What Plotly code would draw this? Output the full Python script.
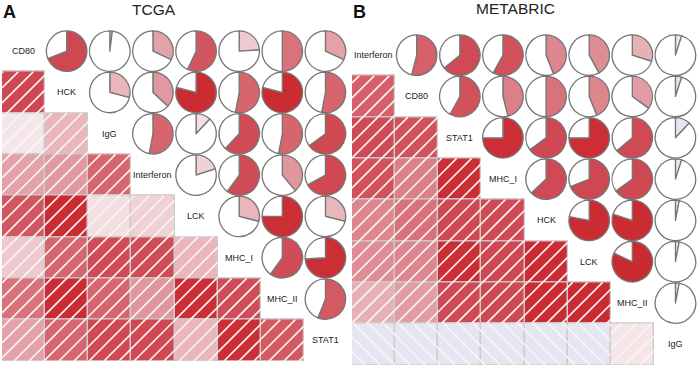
import plotly.graph_objects as go
from plotly.colors import sample_colorscale

W, H = 699, 368

# ---------------- data ----------------
tcga_names = ["CD80", "HCK", "IgG", "Interferon", "LCK", "MHC_I", "MHC_II", "STAT1"]
# upper triangle, row by row (r with the following variables)
tcga_r = [
    [0.69, 0.02, 0.32, 0.57, 0.24, 0.50, 0.32],   # CD80
    [0.29, 0.37, 0.79, 0.53, 0.79, 0.53],         # HCK
    [0.53, 0.12, 0.62, 0.53, 0.65],               # IgG
    [0.20, 0.60, 0.39, 0.67],                     # Interferon
    [0.29, 0.75, 0.29],                           # LCK
    [0.60, 0.74],                                 # MHC_I
    [0.56],                                       # MHC_II
]

metabric_names = ["Interferon", "CD80", "STAT1", "MHC_I", "HCK", "LCK", "MHC_II", "IgG"]
metabric_r = [
    [0.54, 0.64, 0.58, 0.44, 0.42, 0.30, -0.05],  # Interferon
    [0.58, 0.46, 0.50, 0.44, 0.35, -0.05],        # CD80
    [0.75, 0.65, 0.75, 0.64, -0.12],              # STAT1
    [0.63, 0.69, 0.65, -0.05],                    # MHC_I
    [0.78, 0.80, -0.03],                          # HCK
    [0.82, -0.03],                                # LCK
    [0.03],                                       # MHC_II
]

panel_titles = ["TCGA", "METABRIC"]
panel_letters = ["A", "B"]

# ---------------- style ----------------
pos_scale = [
    [0.00, "#f6e9ea"], [0.15, "#f2dcdf"], [0.27, "#ecc4c8"], [0.32, "#e2a2a8"],
    [0.40, "#df949b"], [0.50, "#d9727b"], [0.55, "#d45c65"], [0.60, "#d04c56"],
    [0.70, "#ce4650"], [0.74, "#cb2e34"], [1.00, "#c6242a"],
]
neg_color = "#e6e6f3"
outline = "#767676"
square_line = "#cbcbcb"
hatch_color = "#fbf4f4"
FONT = "Liberation Sans, Arial, sans-serif"
HATCH = 15.0  # px spacing of the hatching

panels = [
    dict(names=tcga_names, r=tcga_r, x0=2.0, x1=347.0, y0=30.5, y1=361.0, ax=""),
    dict(names=metabric_names, r=metabric_r, x0=352.0, x1=697.0, y0=34.5, y1=365.0, ax="2"),
]


def full_matrix(upper, n):
    m = [[1.0] * n for _ in range(n)]
    for i, row in enumerate(upper):
        for k, v in enumerate(row):
            j = i + 1 + k
            m[i][j] = v
            m[j][i] = v
    return m


def color_for(v):
    if v < 0:
        return neg_color
    return sample_colorscale(pos_scale, [min(abs(v), 1.0)])[0]


def hatch_lines(i, j, sign, cw, ch, gx, gy):
    """Diagonal hatch segments (data coords) for the cell at row i, col j."""
    xs, ys = [], []
    off = gx + gy if sign > 0 else gx - gy
    if sign > 0:
        lo, hi = 0.0, cw + ch
    else:
        lo, hi = -ch, cw
    k = int((lo + off) // HATCH) - 1
    while True:
        c = k * HATCH - off
        k += 1
        if c > hi:
            break
        if c <= lo:
            continue
        pts = []
        if sign > 0:  # u + w = c
            cand = [(c, 0.0), (0.0, c), (c - ch, ch), (cw, c - cw)]
        else:         # u - w = c
            cand = [(c, 0.0), (0.0, -c), (c + ch, ch), (cw, cw - c)]
        for u, w in cand:
            if -1e-9 <= u <= cw + 1e-9 and -1e-9 <= w <= ch + 1e-9:
                if all(abs(u - a) > 1e-6 or abs(w - b) > 1e-6 for a, b in pts):
                    pts.append((u, w))
        if len(pts) >= 2:
            for u, w in pts[:2]:
                xs.append(j - 0.5 + u / cw)
                ys.append(i - 0.5 + w / ch)
            xs.append(None)
            ys.append(None)
    return xs, ys


fig = go.Figure()
annotations = []
layout_axes = {}

for p_idx, p in enumerate(panels):
    names = p["names"]
    n = len(names)
    m = full_matrix(p["r"], n)
    cw = (p["x1"] - p["x0"]) / n
    ch = (p["y1"] - p["y0"]) / n
    xa = "x" + p["ax"]
    ya = "y" + p["ax"]

    # lower triangle: shaded squares + hatching
    bx, bbase, bcol = [], [], []
    hx, hy = [], []
    for i in range(n):
        for j in range(i):
            v = m[i][j]
            bx.append(j)
            bbase.append(i - 0.5)
            bcol.append(color_for(v))
            sx, sy = hatch_lines(i, j, 1 if v >= 0 else -1, cw, ch,
                                 p["x0"] + j * cw, p["y0"] + i * ch)
            hx += sx
            hy += sy
    fig.add_trace(go.Bar(
        x=bx, y=[1] * len(bx), base=bbase, width=1,
        marker=dict(color=bcol, line=dict(color=square_line, width=1.3)),
        xaxis=xa, yaxis=ya, showlegend=False, hoverinfo="skip",
    ))
    fig.add_trace(go.Scatter(
        x=hx, y=hy, mode="lines", line=dict(color=hatch_color, width=1.6),
        xaxis=xa, yaxis=ya, showlegend=False, hoverinfo="skip",
    ))

    # upper triangle: pies
    D = 40.5
    for i in range(n):
        for j in range(i + 1, n):
            v = m[i][j]
            a = abs(v)
            cx = p["x0"] + (j + 0.5) * cw
            cy = p["y0"] + (i + 0.5) * ch
            fig.add_trace(go.Pie(
                values=[a, 1 - a], sort=False, rotation=0,
                direction="clockwise" if v >= 0 else "counterclockwise",
                marker=dict(colors=[color_for(v), "white"],
                            line=dict(color=outline, width=1.3)),
                textinfo="none", hoverinfo="skip", showlegend=False,
                domain=dict(x=[(cx - D / 2) / W, (cx + D / 2) / W],
                            y=[1 - (cy + D / 2) / H, 1 - (cy - D / 2) / H]),
            ))

    # diagonal labels
    for k, name in enumerate(names):
        annotations.append(dict(x=k, y=k, xref=xa, yref=ya, text=name, showarrow=False,
                                xanchor="center", yanchor="middle",
                                font=dict(size=9, color="#222222", family=FONT)))

    layout_axes["xaxis" + p["ax"]] = dict(domain=[p["x0"] / W, p["x1"] / W], range=[-0.5, n - 0.5],
                                          visible=False, fixedrange=True, anchor=ya)
    layout_axes["yaxis" + p["ax"]] = dict(domain=[1 - p["y1"] / H, 1 - p["y0"] / H],
                                          range=[n - 0.5, -0.5], visible=False, fixedrange=True,
                                          anchor=xa)

# titles and panel letters
title_pos = [(154, 9.5), (515, 8.5)]
letter_pos = [(9, 12.5), (359, 12.5)]
for k in range(2):
    annotations.append(dict(x=title_pos[k][0] / W, y=1 - title_pos[k][1] / H, xref="paper", yref="paper",
                            text=panel_titles[k], showarrow=False, xanchor="center", yanchor="middle",
                            font=dict(size=15.5, color="#222222", family=FONT)))
    annotations.append(dict(x=letter_pos[k][0] / W, y=1 - letter_pos[k][1] / H, xref="paper", yref="paper",
                            text="<b>%s</b>" % panel_letters[k], showarrow=False,
                            xanchor="center", yanchor="middle",
                            font=dict(size=18, color="#111111", family=FONT)))

fig.update_layout(
    width=W, height=H, margin=dict(l=0, r=0, t=0, b=0),
    paper_bgcolor="white", plot_bgcolor="white",
    barmode="overlay", bargap=0, annotations=annotations,
    **layout_axes,
)

fig.write_html("out.html", config={"displayModeBar": False},
               post_script="document.body.style.margin='0px';")
